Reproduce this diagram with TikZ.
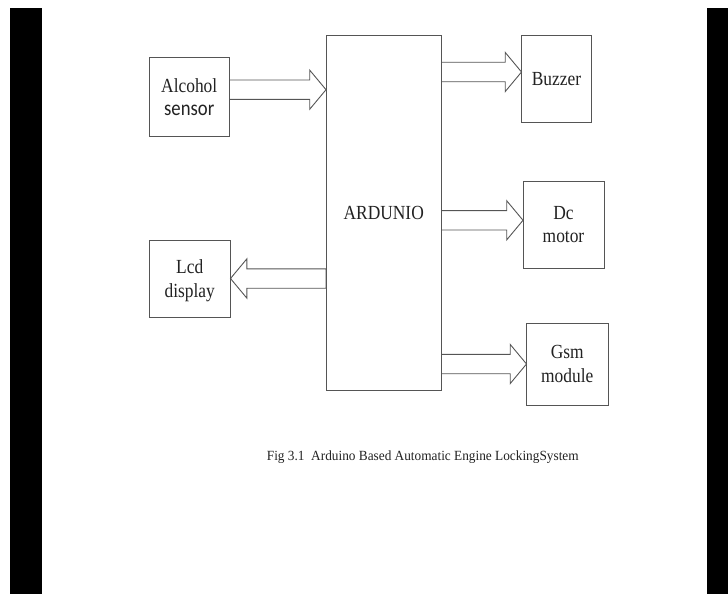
\documentclass[tikz,border=0pt]{standalone}
\usepackage{fontspec}
\setmainfont{Liberation Serif}[FakeStretch=0.87]
\newfontfamily\sensorfont{Carlito}[FakeStretch=0.87]
\newfontfamily\captionfont{Liberation Serif}[FakeStretch=0.95]
\usetikzlibrary{calc}
\definecolor{blockline}{HTML}{555555}
\definecolor{blocktext}{HTML}{222222}

\begin{document}
\begin{tikzpicture}[
  x=1pt,
  y=-1pt,
  every node/.style={font=\fontsize{20}{23.5}\selectfont, text=blocktext},
  block/.style={draw=blockline, line width=1pt, align=center,
                inner sep=0pt, outer sep=0pt, text depth=0pt},
  fatarrow/.style={draw=blockline, line width=0.9pt, to path={
    let \p1=(\tikztostart), \p2=(\tikztotarget),
        \n1={ifthenelse(\x2>\x1,1,-1)} in
    (\x1,\y1+9.7pt) -- (\x2-\n1*16.3pt,\y1+9.7pt)
    -- (\x2-\n1*16.3pt,\y1+19.6pt) -- (\x2,\y1)
    -- (\x2-\n1*16.3pt,\y1-19.6pt) -- (\x2-\n1*16.3pt,\y1-9.7pt)
    -- (\x1,\y1-9.7pt) -- cycle}},
  bar/.style={fill=black, draw=none}
]
  \useasboundingbox (0,0) rectangle (728,594);

  % ---- page edges ---------------------------------------------------------
  \fill[bar] (10,8) rectangle (42.3,594);
  \fill[bar] (706.7,8) rectangle (728,594);

  % ---- blocks ---------------------------------------------------------------
  \node[block, minimum width=80.5, minimum height=78] (alc) at (189.25,97)
    {Alcohol\\{\sensorfont\fontsize{21.5}{23.5}\selectfont sensor}};
  \node[block, minimum width=81.5, minimum height=77] (lcd) at (189.75,278.5)
    {Lcd\\display};
  \node[block, minimum width=115.5, minimum height=354] (ard) at (383.75,213)
    {ARDUNIO};
  \node[block, minimum width=70, minimum height=86] (buz) at (556.5,79)
    {Buzzer};
  \node[block, minimum width=81, minimum height=87] (dcm) at (563.5,224.5)
    {Dc\\motor};
  \node[block, minimum width=81.5, minimum height=82] (gsm) at (567.25,364)
    {Gsm\\module};

  % ---- block arrows -------------------------------------------------------
  \coordinate (alcout) at ([yshift=7.3pt]alc.east);
  \draw[fatarrow] (alcout) to (alcout -| ard.west);
  \draw[fatarrow] (ard.west |- lcd.east) to (lcd.east);
  \coordinate (buzin) at ([yshift=7pt]buz.west);
  \draw[fatarrow] (ard.east |- buzin) to (buzin);
  \coordinate (dcmin) at ([yshift=4.2pt]dcm.west);
  \draw[fatarrow] (ard.east |- dcmin) to (dcmin);
  \draw[fatarrow] (ard.east |- gsm.west) to (gsm.west);

  % ---- caption --------------------------------------------------------------
  \node[font=\captionfont\fontsize{14}{16}\selectfont, anchor=base west,
        inner sep=0pt] (cap) at (266.7,460.7)
    {Fig 3.1~\ Arduino Based Automatic Engine LockingSystem};
\end{tikzpicture}
\end{document}
